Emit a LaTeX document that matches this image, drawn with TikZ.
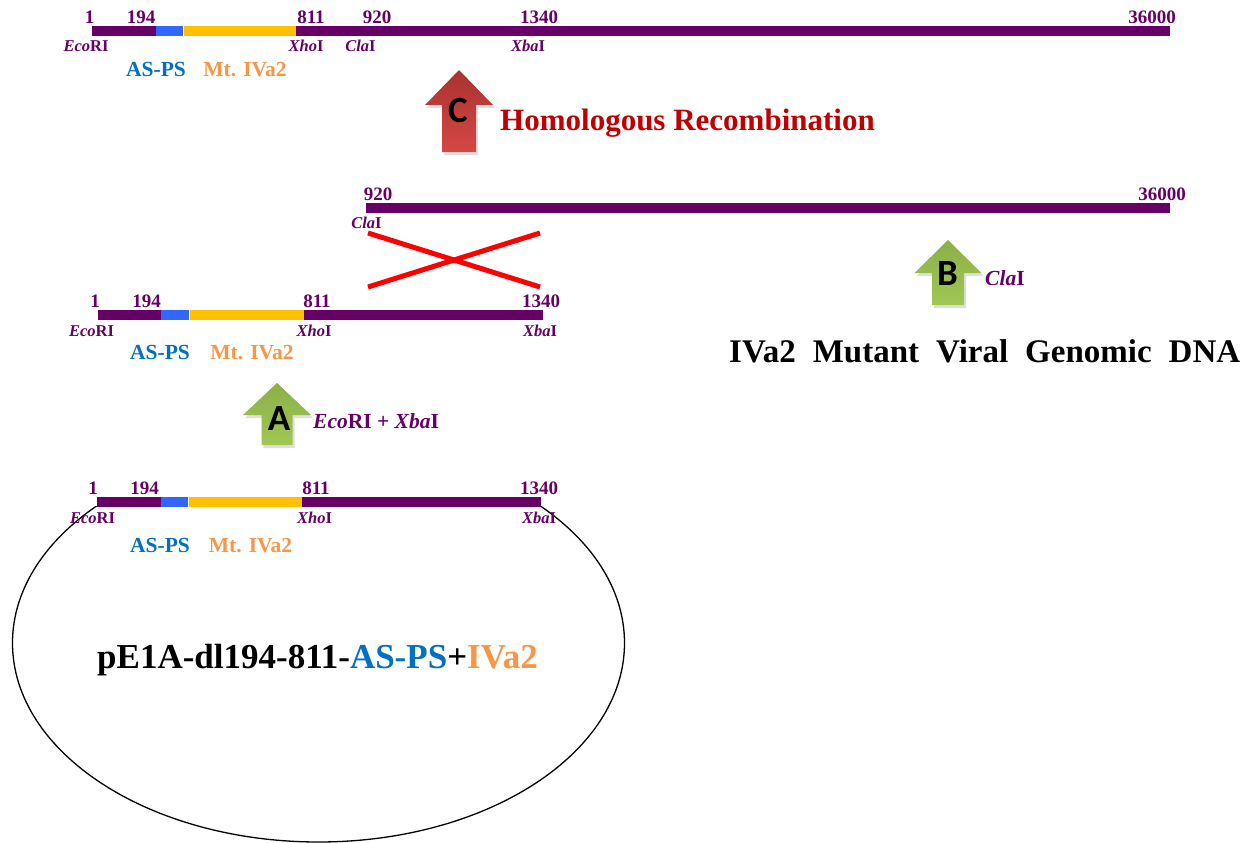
\documentclass[tikz,border=0pt]{standalone}
\usepackage{fontspec}
\setmainfont{Liberation Serif}
\newfontfamily\carl{Carlito}
\usetikzlibrary{shadows}
\definecolor{dnapurple}{RGB}{102,0,102}
\definecolor{segblue}{RGB}{51,102,255}
\definecolor{segyellow}{RGB}{255,192,0}
\definecolor{psblue}{RGB}{0,112,192}
\definecolor{ivorange}{RGB}{247,150,70}
\definecolor{hrred}{RGB}{192,0,0}
\definecolor{xred}{RGB}{255,0,0}
\definecolor{arrowredtop}{RGB}{170,50,48}
\definecolor{arrowredbot}{RGB}{212,72,68}
\definecolor{arrowgreentop}{RGB}{140,176,72}
\definecolor{arrowgreenbot}{RGB}{160,198,84}
\tikzset{
  num/.style={anchor=base, text=dnapurple, font=\fontsize{19}{19}\selectfont\bfseries, inner sep=0pt},
  enz/.style={anchor=base, text=dnapurple, font=\fontsize{16.5}{16.5}\selectfont\bfseries, inner sep=0pt},
  pslabel/.style={anchor=base, text=psblue, font=\fontsize{21.5}{21.5}\selectfont\bfseries, inner sep=0pt},
  mtlabel/.style={anchor=base, text=ivorange, font=\fontsize{21.5}{21.5}\selectfont\bfseries, inner sep=0pt},
  cutlabel/.style={anchor=base west, text=dnapurple, font=\fontsize{21.5}{21.5}\selectfont\bfseries, inner sep=0pt},
  stepletter/.style={font=\carl\bfseries\fontsize{37}{37}\selectfont, text=black, inner sep=0pt},
  redarrow/.style={top color=arrowredtop, bottom color=arrowredbot, draw=none,
     drop shadow={shadow xshift=2pt, shadow yshift=-3pt, opacity=0.25}},
  greenarrow/.style={top color=arrowgreentop, bottom color=arrowgreenbot, draw=none,
     drop shadow={shadow xshift=2pt, shadow yshift=-3pt, opacity=0.25}},
  crossline/.style={draw=xred, line width=5pt},
}
% construct bar: #1 y-centre, #2..#6 x break points, #7 half thickness
\newcommand\constructbar[7]{%
  \fill[dnapurple] (#2,{#1-#7}) rectangle (#3,{#1+#7});
  \fill[segblue] (#3,{#1-#7}) rectangle (#4,{#1+#7});
  \fill[segyellow] ({#4+1},{#1-#7}) rectangle (#5,{#1+#7});
  \fill[dnapurple] (#5,{#1-#7}) rectangle (#6,{#1+#7});
}
% block up-arrow: #1 centre x, #2 tip y, #3 head base y, #4 bottom y, #5 half head, #6 half shaft, #7 style
\newcommand\blockuparrow[7]{%
  \path[#7] ({#1-#6},#4) -- ({#1-#6},#3) -- ({#1-#5},#3) -- (#1,#2) -- ({#1+#5},#3)
     -- ({#1+#6},#3) -- ({#1+#6},#4) -- cycle;
}
\newcommand\enzname[2]{\textit{#1}#2}
\begin{document}
\begin{tikzpicture}[x=1pt, y=-1pt]
\useasboundingbox (0,0) rectangle (1254,843);

% ---------- top: recombinant ----------
\constructbar{31}{92}{156}{183}{296}{1170}{4.6}
\node[num] (t1) at (89.5,24) {1};
\node[num] (t194) at (141,24) {194};
\node[num] (t811) at (311,24) {811};
\node[num] (t920) at (377,24) {920};
\node[num] (t1340) at (539,24) {1340};
\node[num] (t36000) at (1152,24) {36000};
\node[enz] (teco) at (86,52) {\enzname{Eco}{RI}};
\node[enz] (txho) at (306,52) {\enzname{Xho}{I}};
\node[enz] (tcla) at (360.5,52) {\enzname{Cla}{I}};
\node[enz] (txba) at (528,52) {\enzname{Xba}{I}};
\node[pslabel] (tps) at (156,77) {AS-PS};
\node[mtlabel] (tmt) at (245,77) {Mt. IVa2};

% ---------- arrow C ----------
\blockuparrow{459}{70}{105}{152}{34}{17}{redarrow}
\node[stepletter] (lc) at (458,110) {C};
\node[anchor=base west, text=hrred, font=\fontsize{31}{31}\selectfont\bfseries, inner sep=0pt]
  (hr) at (500,131) {Homologous Recombination};

% ---------- viral genomic fragment ----------
\fill[dnapurple] (366,203) rectangle (1170,213);
\node[num] (v920) at (378,200) {920};
\node[num] (v36000) at (1162,200) {36000};
\node[enz] (vcla) at (366.5,228) {\enzname{Cla}{I}};

% red cross
\coordinate (xa) at (368,233);
\coordinate (xb) at (540,287);
\coordinate (xc) at (368,287);
\coordinate (xd) at (540,233);
\draw[crossline] (xa) -- (xb);
\draw[crossline] (xc) -- (xd);

% ---------- arrow B ----------
\blockuparrow{948}{240}{273}{305}{33.5}{16}{greenarrow}
\node[stepletter] (lb) at (947.5,273.5) {B};
\node[cutlabel] (bcut) at (985,285) {\enzname{Cla}{I}};
\node[anchor=base west, font=\fontsize{33}{33}\selectfont\bfseries, inner sep=0pt]
  (mutant) at (729,362) {\spaceskip=17pt IVa2 Mutant Viral Genomic DNA};

% ---------- middle fragment ----------
\constructbar{315}{98}{161}{189}{304}{543}{5}
\node[num] (m1) at (95,307) {1};
\node[num] (m194) at (146.5,307) {194};
\node[num] (m811) at (317,307) {811};
\node[num] (m1340) at (541,307) {1340};
\node[enz] (meco) at (91.5,336) {\enzname{Eco}{RI}};
\node[enz] (mxho) at (314,336) {\enzname{Xho}{I}};
\node[enz] (mxba) at (540,336) {\enzname{Xba}{I}};
\node[pslabel] (mps) at (160,359) {AS-PS};
\node[mtlabel] (mmt) at (252,359) {Mt. IVa2};

% ---------- arrow A ----------
\blockuparrow{277}{383}{415}{445}{34}{15.5}{greenarrow}
\node[stepletter] (la) at (279,419) {A};
\node[cutlabel] (acut) at (313,428) {\enzname{Eco}{RI} + \enzname{Xba}{I}};

% ---------- plasmid ----------
\begin{scope}
  \clip (0,506) rectangle (1254,843);
  \draw[line width=1.3pt] (318.5,643) ellipse [x radius=306, y radius=199];
\end{scope}
\constructbar{502}{97}{161}{187.5}{302}{541}{4.8}
\node[num] (p1) at (93,494) {1};
\node[num] (p194) at (144.5,494) {194};
\node[num] (p811) at (316,494) {811};
\node[num] (p1340) at (539,494) {1340};
\node[enz] (peco) at (92.5,523) {\enzname{Eco}{RI}};
\node[enz] (pxho) at (314.5,523) {\enzname{Xho}{I}};
\node[enz] (pxba) at (539,523) {\enzname{Xba}{I}};
\node[pslabel] (pps) at (160,552) {AS-PS};
\node[mtlabel] (pmt) at (250.5,552) {Mt. IVa2};
\node[anchor=base west, font=\fontsize{35}{35}\selectfont\bfseries, inner sep=0pt]
  (plasmid) at (97,668) {pE1A-dl194-811-\textcolor{psblue}{AS-PS}+\textcolor{ivorange}{IVa2}};
\end{tikzpicture}
\end{document}
